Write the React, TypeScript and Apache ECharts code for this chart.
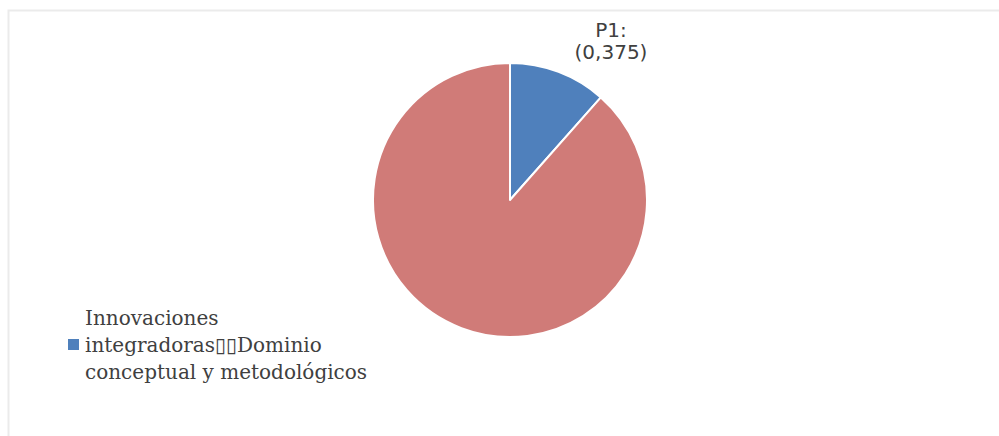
import React, { useEffect, useRef } from "react";
import * as echarts from "echarts";

const categories: string[] = [
  "Innovaciones\nintegradoras\u25AF\u25AFDominio\nconceptual y metodológicos",
  "Otros",
];
const values: number[] = [0.375, 2.875];
const sliceLabels: string[] = ["P1:\n(0,375)", ""];
const colors: string[] = ["#4F80BC", "#D07B78"];

export default function App() {
  const ref = useRef<HTMLDivElement>(null);
  useEffect(() => {
    if (!ref.current) return;
    const chart = echarts.init(ref.current, undefined, { renderer: "svg" });
    chart.setOption({
      animation: false,
      backgroundColor: "#ffffff",
      graphic: [
        {
          type: "polyline",
          silent: true,
          shape: { points: [[8.5, 436], [8.5, 10.5], [999, 10.5]] },
          style: { stroke: "#ebebeb", lineWidth: 2, fill: "none" },
        },
      ],
      legend: {
        show: true,
        data: [categories[0]],
        left: 61,
        top: 299,
        orient: "vertical",
        icon: "rect",
        itemWidth: 13,
        itemHeight: 13,
        itemGap: 6,
        textStyle: {
          fontFamily: "DejaVu Serif",
          fontSize: 20,
          lineHeight: 27,
          color: "#404040",
        },
      },
      series: [
        {
          type: "pie",
          center: [510, 200],
          radius: 137,
          startAngle: 90,
          clockwise: true,
          data: categories.map((c, i) => ({
            name: c,
            value: values[i],
            itemStyle: { color: colors[i] },
            label: { show: i === 0 },
          })),
          itemStyle: { borderColor: "#ffffff", borderWidth: 2 },
          label: {
            show: true,
            position: "outside",
            formatter: (p: any) => sliceLabels[p.dataIndex],
            fontFamily: "DejaVu Sans",
            fontSize: 20,
            lineHeight: 22,
            color: "#404040",
            align: "center",
          },
          labelLine: { show: false },
          labelLayout: (p: any) =>
            p.dataIndex === 0
              ? { x: 611, y: 41, align: "center", verticalAlign: "middle" }
              : {},
          emphasis: { disabled: true },
        },
      ],
    });
    return () => chart.dispose();
  }, []);
  return (
    <div
      ref={ref}
      style={{ position: "absolute", left: 0, top: 0, width: 999, height: 436 }}
    />
  );
}
